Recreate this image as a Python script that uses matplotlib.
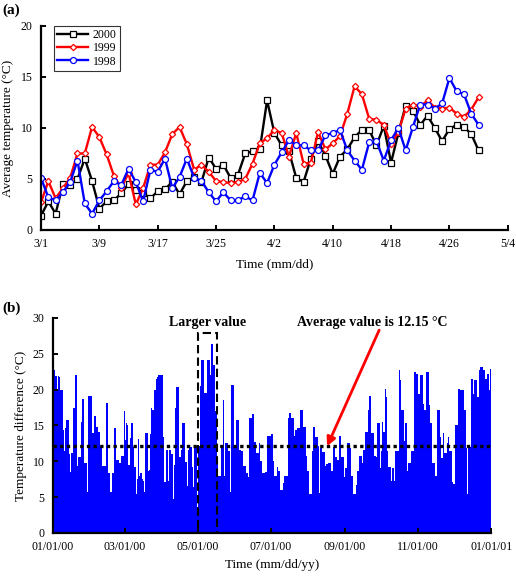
import matplotlib
matplotlib.use("Agg")
import matplotlib.pyplot as plt
import numpy as np
from matplotlib.patches import Rectangle

plt.rcParams["font.family"] = ["Liberation Serif", "DejaVu Serif"]

# (a) daily average temperature, 3/1 .. 4/30
temp_2000 = [1.4, 2.8, 1.6, 4.5, 4.4, 5.0, 7.0, 4.8, 2.1, 2.8,
             2.9, 3.6, 4.5, 3.9, 3.6, 3.1, 3.8, 4.0, 4.7, 3.5,
             4.8, 5.2, 4.7, 7.1, 6.0, 6.4, 5.1, 5.4, 7.5, 7.7,
             7.9, 12.7, 9.5, 8.3, 7.7, 5.1, 4.7, 7.0, 8.7, 7.3,
             5.5, 7.2, 7.9, 9.1, 9.8, 9.8, 8.3, 10.2, 6.6, 9.5,
             12.2, 11.7, 10.3, 11.2, 10.0, 8.7, 9.9, 10.3, 10.1, 9.4, 7.8]
temp_1999 = [2.7, 4.8, 3.1, 4.1, 5.1, 7.5, 7.5, 10.1, 9.1, 7.4,
             5.3, 4.1, 5.6, 2.5, 4.1, 6.4, 6.4, 7.6, 9.4, 10.1,
             8.4, 5.9, 6.4, 5.7, 4.8, 4.7, 4.6, 4.7, 5.0, 6.5,
             8.5, 9.0, 9.8, 9.5, 7.2, 9.5, 6.5, 6.6, 9.6, 7.9,
             8.5, 9.2, 11.4, 14.1, 13.3, 10.9, 10.8, 10.3, 8.4, 9.6,
             11.9, 12.3, 12.1, 12.7, 12.0, 11.9, 12.0, 11.4, 11.1, 11.8, 13.0]
temp_1998 = [5.1, 3.2, 2.9, 3.7, 4.7, 6.8, 2.6, 1.6, 2.9, 3.8,
             4.8, 4.4, 6.0, 4.7, 2.8, 5.9, 5.7, 7.0, 4.1, 5.2,
             7.0, 5.1, 4.8, 3.7, 2.8, 3.7, 2.9, 2.9, 3.3, 2.9,
             5.6, 4.6, 6.4, 7.6, 8.8, 8.3, 8.3, 7.8, 7.8, 9.3,
             9.5, 9.8, 7.8, 6.8, 5.9, 8.6, 8.7, 6.8, 8.8, 10.0,
             7.8, 10.1, 12.3, 12.3, 11.9, 12.4, 14.9, 13.6, 13.3, 11.4, 10.3]
ticks_a = [0, 8, 16, 24, 32, 40, 48, 56, 64]
labels_a = ["3/1", "3/9", "3/17", "3/25", "4/2", "4/10", "4/18", "4/26", "5/4"]

# (b) daily temperature difference in 2000, one list per month
jan = [22.6, 22.8, 21.9, 20.0, 21.9, 21.8, 20.0, 20.0, 14.4, 11.5,
       14.6, 15.8, 15.8, 11.0, 8.5, 11.2, 11.2, 17.5, 22.0, 22.0,
       9.4, 10.6, 10.6, 15.5, 18.7, 18.7, 9.7, 9.7, 5.7, 19.1, 19.1]
feb = [19.1, 19.1, 14.0, 16.3, 16.3, 14.8, 14.8, 14.1, 12.2, 12.2,
       9.4, 9.4, 9.4, 18.1, 18.1, 8.4, 8.4, 5.7, 8.4, 8.4,
       14.6, 14.6, 10.2, 10.2, 9.7, 9.7, 10.8, 10.8, 17.0]
mar = [13.0, 15.3, 15.0, 9.5, 13.2, 15.4, 15.4, 12.0, 9.2, 5.5,
       7.5, 13.1, 8.0, 8.3, 7.5, 7.3, 5.7, 13.9, 13.9, 8.7,
       8.8, 13.8, 17.4, 17.2, 19.9, 20.0, 21.5, 21.8, 22.0, 22.1, 22.0]
apr = [22.0, 13.4, 7.1, 11.6, 11.6, 7.2, 11.6, 11.6, 11.0, 4.8,
       9.5, 17.5, 20.3, 20.3, 10.6, 10.6, 11.6, 15.3, 15.3, 9.9,
       9.9, 6.5, 11.6, 12.0, 12.0, 9.2, 6.4, 12.2, 12.2, 3.6]
may = [12.2, 12.2, 20.5, 24.2, 24.2, 19.6, 19.6, 19.6, 24.2, 24.2,
       22.0, 26.4, 26.4, 23.5, 17.0, 16.6, 9.9, 8.0, 8.0, 11.8,
       11.8, 18.5, 8.0, 12.5, 12.5, 11.5, 11.5, 5.7, 20.6, 20.6, 11.8]
jun = [11.8, 15.7, 15.7, 11.6, 11.6, 11.5, 11.5, 9.4, 9.4, 8.3,
       8.3, 7.8, 16.0, 16.0, 16.6, 16.6, 12.7, 12.7, 11.1, 11.1,
       12.5, 10.1, 10.1, 8.3, 8.3, 8.5, 8.5, 13.6, 13.6, 13.6]
jul = [13.8, 13.8, 10.1, 8.0, 8.0, 9.2, 8.7, 8.7, 6.0, 6.0,
       7.0, 8.0, 8.0, 8.0, 16.0, 16.7, 16.7, 16.0, 16.0, 13.6,
       14.3, 14.3, 14.6, 14.6, 17.2, 17.2, 17.2, 14.8, 14.8, 10.8, 8.7]
aug = [8.7, 5.5, 5.5, 11.5, 14.8, 14.8, 13.4, 13.4, 12.2, 5.6,
       11.9, 11.9, 11.3, 11.3, 9.4, 9.6, 9.6, 9.8, 9.8, 8.7,
       8.7, 12.0, 12.0, 10.6, 10.2, 10.2, 13.6, 13.6, 10.6, 10.6, 7.8]
sep = [9.0, 9.0, 12.5, 12.5, 11.8, 8.0, 8.0, 5.5, 5.5, 6.7,
       8.7, 8.7, 10.8, 10.8, 9.7, 11.6, 11.6, 14.1, 14.1, 17.1,
       19.1, 19.1, 13.9, 13.9, 10.8, 10.8, 10.6, 15.3, 15.3, 9.0]
oct_ = [11.5, 15.5, 14.1, 20.1, 19.0, 11.5, 9.2, 9.2, 7.3, 9.0,
        9.0, 7.3, 11.5, 11.5, 11.5, 22.7, 21.3, 17.1, 17.1, 12.9,
        15.3, 15.3, 8.7, 9.7, 9.7, 11.5, 11.5, 11.5, 22.5, 22.2, 22.2]
nov = [19.4, 19.4, 22.0, 22.0, 18.0, 17.1, 17.1, 22.5, 22.5, 17.8,
       15.3, 15.3, 9.7, 9.7, 8.0, 8.0, 17.2, 17.2, 13.4, 10.4,
       10.4, 13.9, 11.1, 11.1, 12.5, 13.4, 11.5, 11.5, 7.1, 6.9]
dec = [6.9, 15.0, 15.0, 20.1, 20.1, 19.9, 19.9, 19.9, 17.1, 17.1,
       11.8, 5.5, 12.0, 12.0, 21.5, 21.5, 19.4, 21.3, 21.3, 19.0,
       19.0, 22.7, 23.1, 23.1, 22.7, 22.7, 21.5, 21.5, 22.2, 19.9, 22.9]
ticks_b = [0, 60, 121, 182, 244, 305, 366]
labels_b = ["01/01/00", "03/01/00", "05/01/00", "07/01/00",
            "09/01/00", "11/01/00", "01/01/01"]
avg_diff = 12.15

fig = plt.figure(figsize=(5.16, 5.83), dpi=100)

# ---- panel (a)
ax1 = fig.add_axes([0.0795, 0.6055, 0.9045, 0.350])
days_a = np.arange(len(temp_2000))
ax1.plot(days_a, temp_2000, color="black", lw=1.7, marker="s", ms=4.5,
         mfc="white", mec="black", mew=0.9, label="2000")
ax1.plot(days_a, temp_1999, color="red", lw=1.7, marker="D", ms=3.2,
         mfc="white", mec="red", mew=0.9, label="1999")
ax1.plot(days_a, temp_1998, color="blue", lw=1.7, marker="o", ms=4.3,
         mfc="white", mec="blue", mew=0.9, label="1998")
ax1.set_xlim(0, 64)
ax1.set_ylim(0, 20)
ax1.set_xticks(ticks_a)
ax1.set_xticklabels(labels_a)
ax1.set_yticks([0, 5, 10, 15, 20])
ax1.set_xlabel("Time (mm/dd)", fontsize=9.5, labelpad=6)
ax1.set_ylabel("Average temperature (°C)", fontsize=9.5, labelpad=5)
leg = ax1.legend(loc="upper left", bbox_to_anchor=(0.015, 1.03), fontsize=8.5,
                 frameon=True, fancybox=False, handlelength=2.6,
                 borderpad=0.3, labelspacing=0.1, handletextpad=0.4)
leg.get_frame().set_edgecolor("black")
leg.get_frame().set_linewidth(0.8)
fig.text(0.005, 0.982, "(a)", fontsize=11, fontweight="bold", va="center")

# ---- panel (b)
ax2 = fig.add_axes([0.1027, 0.0858, 0.849, 0.3688])
diff = np.concatenate([jan, feb, mar, apr, may, jun,
                       jul, aug, sep, oct_, nov, dec])
days_b = np.arange(len(diff))
ax2.bar(days_b + 0.5, diff, width=1.0, color="#0000ff", linewidth=0)
ax2.axhline(avg_diff, color="black", ls=(0, (1, 1)), lw=2.4)
ax2.add_patch(Rectangle((121.3, 0), 15.5, 27.9, fill=False,
                        ls=(0, (4, 2)), lw=1.5, ec="black", zorder=3))
ax2.text(129, 29.4, "Larger value", ha="center", va="center",
         fontsize=10, fontweight="bold")
ax2.text(267, 29.4, "Average value is 12.15 °C", ha="center", va="center",
         fontsize=10, fontweight="bold")
ax2.annotate("", xy=(229, 12.1), xytext=(272.5, 28.3),
             arrowprops=dict(arrowstyle="-|>", color="red", lw=2.0,
                             mutation_scale=13, shrinkA=0, shrinkB=0))
ax2.set_xlim(0, 366)
ax2.set_ylim(0, 30)
ax2.set_xticks(ticks_b)
ax2.set_xticklabels(labels_b)
ax2.set_yticks(range(0, 31, 5))
ax2.set_xlabel("Time (mm/dd/yy)", fontsize=9.5, labelpad=4)
ax2.set_ylabel("Temperature difference (°C)", fontsize=9.5, labelpad=4)
fig.text(0.005, 0.472, "(b)", fontsize=11, fontweight="bold", va="center")

for ax in (ax1, ax2):
    ax.spines["top"].set_visible(False)
    ax.spines["right"].set_visible(False)
    ax.spines["left"].set_linewidth(1.6)
    ax.spines["bottom"].set_linewidth(1.6)
    ax.tick_params(direction="in", length=3.5, width=1.4, labelsize=8.5, pad=6)

fig.savefig("out.png", dpi=100)
